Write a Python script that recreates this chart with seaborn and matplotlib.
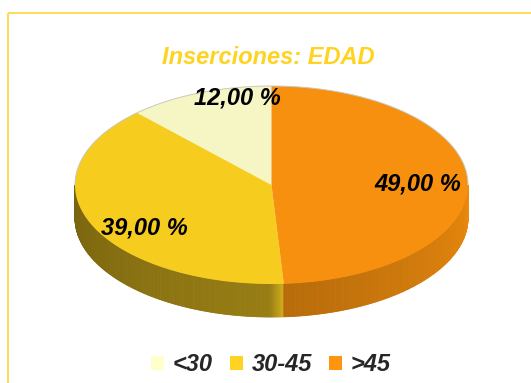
import numpy as np
import matplotlib
matplotlib.use("Agg")
import matplotlib.pyplot as plt
from matplotlib.patches import Patch, Rectangle
from matplotlib.collections import PolyCollection
import seaborn as sns

# ---- data -------------------------------------------------------------
title = "Inserciones: EDAD"
categories = ["<30", "30-45", ">45"]
shares = [12.0, 39.0, 49.0]

# ---- style ------------------------------------------------------------
sns.set_style("white")
plt.rcParams["font.family"] = ["Liberation Sans", "DejaVu Sans"]

palette = sns.color_palette(["#ffffcc", "#ffd320", "#ff950e"])
# side-wall lighting per slice: (shade at start of visible wall, shade at end)
wall_shade = [(0.55, 0.65), (0.47, 0.60), (0.72, 0.92)]
accent = "#ffd320"

W, H, DPI = 531, 383, 100
fig = plt.figure(figsize=(W / DPI, H / DPI), dpi=DPI)
fig.patch.set_facecolor("white")
ax = fig.add_axes([0, 0, 1, 1])
ax.set_xlim(0, W)
ax.set_ylim(H, 0)
ax.axis("off")

# outer frame
ax.add_patch(Rectangle((7.5, 12.5), 700, 700, fill=False,
                       edgecolor="#ffd84a", linewidth=1.3, zorder=0))

# pie geometry (screen pixels, y grows downward)
cx, cy, rx, ry, depth = 271.5, 185.0, 196.5, 99.0, 33.0
start = 90.0


def rim(theta_deg, dy=0.0):
    t = np.radians(theta_deg)
    return cx + rx * np.cos(t), cy - ry * np.sin(t) + dy


def scale(c, f):
    return tuple(min(1.0, ch * f) for ch in c)


total = float(sum(shares))
spans = []
a = start
for v in shares:
    b = a + 360.0 * v / total
    spans.append((a, b))
    a = b

# visible side wall: the front half of the rim (180..360 degrees)
for (a, b), col, (s0, s1) in zip(spans, palette, wall_shade):
    for off in (0.0, 360.0, -360.0):
        lo = max(a + off, 180.0)
        hi = min(b + off, 360.0)
        if hi <= lo:
            continue
        steps = np.append(np.arange(lo, hi, 0.5), hi)
        polys, cols = [], []
        for t0, t1 in zip(steps[:-1], steps[1:]):
            x0, y0 = rim(t0)
            x1, y1 = rim(t1)
            polys.append([(x0, y0), (x1, y1), (x1, y1 + depth), (x0, y0 + depth)])
            tm = 0.5 * (t0 + t1)
            frac = (tm - lo) / (hi - lo)
            shade = s0 + (s1 - s0) * frac
            # bright edge where the wall meets the next slice
            if hi < 360.0 and hi - tm < 4.0:
                shade += 0.22 * (1.0 - (hi - tm) / 4.0)
            cols.append(scale(col, shade))
        pc = PolyCollection(polys, facecolors=cols, edgecolors=cols,
                            linewidths=0.6, zorder=1)
        ax.add_collection(pc)

# top faces
for (a, b), col in zip(spans, palette):
    th = np.linspace(a, b, 200)
    xs, ys = rim(th)
    px = np.concatenate([[cx], xs, [cx]])
    py = np.concatenate([[cy], ys, [cy]])
    ax.fill(px, py, color=scale(col, 0.965), linewidth=0, zorder=2)

# faint outline along the back of the top rim
th = np.linspace(0, 180, 300)
xs, ys = rim(th)
ax.plot(xs, ys, color="#c9c9b8", linewidth=0.7, zorder=3)

# value labels
label_r = 0.78
label_nudge = [(22, -15), (14, 12), (-7, 1)]
for (a, b), v, (nx, ny) in zip(spans, shares, label_nudge):
    mid = np.radians(0.5 * (a + b))
    lx = cx + label_r * rx * np.cos(mid) + nx
    ly = cy - label_r * ry * np.sin(mid) + ny
    txt = f"{v:.2f} %".replace(".", ",")
    ax.text(lx, ly, txt, ha="center", va="center", fontsize=17,
            fontweight="bold", fontstyle="italic", color="black", zorder=4)

# title
ax.text(268, 57, title, ha="center", va="center", fontsize=17,
        fontweight="bold", fontstyle="italic", color=accent, zorder=4)

# legend
handles = [Patch(facecolor=c, edgecolor="none", label=l)
           for c, l in zip(palette, categories)]
fig.legend(handles=handles, loc="center", bbox_to_anchor=(0.51, 0.047),
           ncol=3, frameon=False,
           prop={"size": 17, "weight": "bold", "style": "italic"},
           handlelength=0.55, handleheight=0.55, handletextpad=0.38,
           columnspacing=0.72, borderpad=0)

fig.savefig("out.png", dpi=DPI, facecolor="white")
